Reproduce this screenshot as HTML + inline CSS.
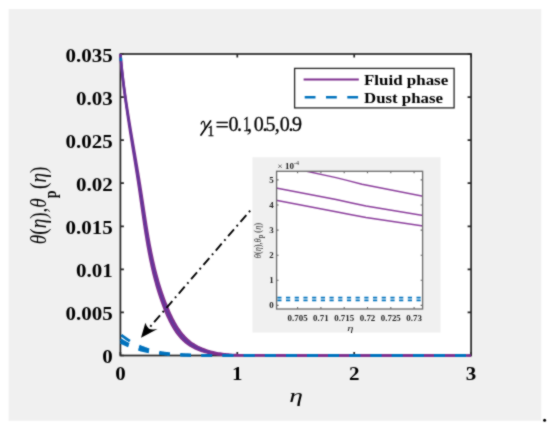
<!DOCTYPE html>
<html><head><meta charset="utf-8"><style>
html,body{margin:0;padding:0;background:#fff;width:550px;height:433px;overflow:hidden}
svg{position:absolute;left:0;top:0;will-change:transform}
svg text{font-family:"Liberation Serif",serif}
</style></head><body>
<svg width="550" height="433" viewBox="0 0 550 433" font-family="Liberation Serif">
<defs><filter id="soft" color-interpolation-filters="sRGB" filterUnits="userSpaceOnUse" x="0" y="0" width="550" height="433"><feConvolveMatrix order="3" kernelMatrix="1 2 1 2 12 2 1 2 1" divisor="24" edgeMode="duplicate"/></filter></defs>
<g filter="url(#soft)">
<rect x="0" y="0" width="550" height="433" fill="#fff"/>
<rect x="8.6" y="9" width="532.7" height="411.8" fill="#F0F0F0"/>
<rect x="120.4" y="54.0" width="350.70" height="301.50" fill="#fff"/>
<rect x="120.4" y="54.0" width="350.70" height="301.50" fill="none" stroke="#262626" stroke-width="1.7"/>
<path d="M120.40,355.5 v-3.5 M120.40,54.0 v3.5" stroke="#262626" stroke-width="1.7"/>
<path d="M237.30,355.5 v-3.5 M237.30,54.0 v3.5" stroke="#262626" stroke-width="1.7"/>
<path d="M354.20,355.5 v-3.5 M354.20,54.0 v3.5" stroke="#262626" stroke-width="1.7"/>
<path d="M471.10,355.5 v-3.5 M471.10,54.0 v3.5" stroke="#262626" stroke-width="1.7"/>
<path d="M120.4,355.50 h3.5 M471.1,355.50 h-3.5" stroke="#262626" stroke-width="1.7"/>
<path d="M120.4,312.43 h3.5 M471.1,312.43 h-3.5" stroke="#262626" stroke-width="1.7"/>
<path d="M120.4,269.36 h3.5 M471.1,269.36 h-3.5" stroke="#262626" stroke-width="1.7"/>
<path d="M120.4,226.29 h3.5 M471.1,226.29 h-3.5" stroke="#262626" stroke-width="1.7"/>
<path d="M120.4,183.21 h3.5 M471.1,183.21 h-3.5" stroke="#262626" stroke-width="1.7"/>
<path d="M120.4,140.14 h3.5 M471.1,140.14 h-3.5" stroke="#262626" stroke-width="1.7"/>
<path d="M120.4,97.07 h3.5 M471.1,97.07 h-3.5" stroke="#262626" stroke-width="1.7"/>
<path d="M120.4,54.00 h3.5 M471.1,54.00 h-3.5" stroke="#262626" stroke-width="1.7"/>
<clipPath id="ax"><rect x="118.4" y="52.0" width="352.70" height="305.50"/></clipPath>
<g clip-path="url(#ax)">
<path d="M120.40,54.00 L120.52,55.32 L120.63,56.64 L120.75,57.97 L120.87,59.29 L120.99,60.61 L121.12,61.93 L121.25,63.25 L121.38,64.56 L121.52,65.88 L121.65,67.20 L121.79,68.51 L121.94,69.83 L122.08,71.14 L122.23,72.46 L122.38,73.77 L122.53,75.09 L122.69,76.40 L122.84,77.71 L123.00,79.02 L123.17,80.33 L123.33,81.64 L123.50,82.95 L123.67,84.26 L123.84,85.57 L124.01,86.88 L124.19,88.19 L124.36,89.50 L124.54,90.81 L124.72,92.11 L124.90,93.42 L125.09,94.73 L125.28,96.03 L125.46,97.34 L125.65,98.64 L125.85,99.95 L126.04,101.25 L126.23,102.55 L126.43,103.86 L126.63,105.16 L126.83,106.46 L127.03,107.77 L127.23,109.07 L127.43,110.37 L127.64,111.67 L127.84,112.98 L128.05,114.28 L128.26,115.58 L128.47,116.88 L128.68,118.18 L128.89,119.48 L129.10,120.78 L129.31,122.08 L129.53,123.38 L129.74,124.68 L129.96,125.98 L130.18,127.28 L130.40,128.58 L130.61,129.88 L130.83,131.18 L131.05,132.48 L131.27,133.78 L131.49,135.08 L131.71,136.38 L131.94,137.67 L132.16,138.97 L132.38,140.27 L132.60,141.57 L132.83,142.87 L133.05,144.17 L133.28,145.47 L133.50,146.77 L133.72,148.07 L133.95,149.37 L134.17,150.67 L134.40,151.97 L134.62,153.27 L134.85,154.56 L135.07,155.86 L135.29,157.16 L135.52,158.46 L135.74,159.76 L135.96,161.06 L136.19,162.37 L136.41,163.67 L136.63,164.97 L136.85,166.27 L137.08,167.57 L137.30,168.87 L137.52,170.17 L137.74,171.47 L137.96,172.78 L138.18,174.08 L138.39,175.38 L138.61,176.69 L138.83,177.99 L139.04,179.29 L139.26,180.60 L139.47,181.90 L139.68,183.21 L139.89,184.51 L140.10,185.82 L140.31,187.12 L140.52,188.43 L140.73,189.74 L140.94,191.04 L141.14,192.35 L141.34,193.66 L141.55,194.97 L141.75,196.28 L141.95,197.58 L142.15,198.89 L142.35,200.20 L142.55,201.51 L142.75,202.82 L142.95,204.13 L143.15,205.44 L143.35,206.75 L143.55,208.06 L143.75,209.37 L143.95,210.68 L144.15,211.99 L144.35,213.30 L144.55,214.61 L144.75,215.92 L144.95,217.23 L145.16,218.54 L145.36,219.85 L145.57,221.16 L145.77,222.47 L145.98,223.78 L146.19,225.09 L146.40,226.40 L146.61,227.71 L146.83,229.01 L147.04,230.32 L147.26,231.63 L147.48,232.93 L147.70,234.24 L147.93,235.55 L148.15,236.85 L148.38,238.16 L148.61,239.46 L148.85,240.76 L149.08,242.07 L149.32,243.37 L149.57,244.67 L149.81,245.97 L150.06,247.27 L150.31,248.57 L150.57,249.87 L150.82,251.17 L151.09,252.46 L151.35,253.76 L151.62,255.05 L151.89,256.35 L152.17,257.64 L152.45,258.93 L152.73,260.23 L153.02,261.52 L153.32,262.81 L153.61,264.09 L153.92,265.38 L154.22,266.67 L154.54,267.95 L154.85,269.24 L155.17,270.52 L155.50,271.80 L155.83,273.08 L156.17,274.36 L156.51,275.63 L156.86,276.91 L157.21,278.19 L157.57,279.46 L157.93,280.73 L158.30,282.00 L158.68,283.27 L159.06,284.54 L159.45,285.80 L159.84,287.07 L160.24,288.33 L160.65,289.59 L161.06,290.85 L161.48,292.11 L161.91,293.37 L162.34,294.62 L162.78,295.87 L163.23,297.12 L163.68,298.37 L164.14,299.62 L164.61,300.87 L165.09,302.11 L165.57,303.35 L166.06,304.59 L166.56,305.83 L167.07,307.06 L167.59,308.30 L168.11,309.53 L168.64,310.76 L169.18,311.99 L169.73,313.21 L170.29,314.43 L170.86,315.65 L171.43,316.85 L172.02,318.06 L172.63,319.25 L173.24,320.44 L173.87,321.61 L174.51,322.78 L175.17,323.93 L175.84,325.08 L176.52,326.21 L177.23,327.33 L177.94,328.43 L178.68,329.52 L179.43,330.59 L180.20,331.65 L180.99,332.69 L181.80,333.71 L182.63,334.71 L183.48,335.69 L184.35,336.65 L185.24,337.58 L186.15,338.50 L187.09,339.39 L188.05,340.26 L189.03,341.10 L190.04,341.92 L191.07,342.71 L192.13,343.47 L193.22,344.20 L194.33,344.91 L195.46,345.58 L196.61,346.23 L197.79,346.86 L198.99,347.45 L200.20,348.02 L201.43,348.56 L202.68,349.08 L203.94,349.57 L205.22,350.04 L206.50,350.48 L207.80,350.90 L209.10,351.29 L210.41,351.66 L211.74,352.01 L213.07,352.33 L214.40,352.64 L215.75,352.92 L217.10,353.18 L218.45,353.43 L219.82,353.65 L221.19,353.86 L222.56,354.05 L223.94,354.22 L225.32,354.38 L226.71,354.52 L228.11,354.65 L229.50,354.76 L230.90,354.86 L232.30,354.95 L233.71,355.03 L235.12,355.09 L236.53,355.14 L237.94,355.19 L239.35,355.22 L240.77,355.24 L242.18,355.26 L243.60,355.27 L245.01,355.27 L246.43,355.27 L247.84,355.27 L249.26,355.27 L250.67,355.27 L252.08,355.27 L253.49,355.27 L254.89,355.27 L256.29,355.27 L257.69,355.27 L259.09,355.27 L260.48,355.27 L261.87,355.27 L263.26,355.27 L264.64,355.27 L266.01,355.27 L267.38,355.27 L268.74,355.27 L270.10,355.27 L271.45,355.27 L272.79,355.27 L274.13,355.27 L275.46,355.27 L276.78,355.27 L278.10,355.27 L279.40,355.27 L280.70,355.27 L281.98,355.27 L283.26,355.30 L284.53,355.39 L285.78,355.50 L485.89,355.50" fill="none" stroke="#7E2F8E" stroke-width="2.6" stroke-linejoin="round"/>
<path d="M120.40,54.00 L120.51,55.32 L120.61,56.64 L120.72,57.97 L120.84,59.29 L120.95,60.61 L121.07,61.93 L121.19,63.25 L121.31,64.56 L121.44,65.88 L121.57,67.20 L121.70,68.51 L121.83,69.83 L121.97,71.14 L122.11,72.46 L122.25,73.77 L122.39,75.09 L122.53,76.40 L122.68,77.71 L122.83,79.02 L122.98,80.33 L123.13,81.64 L123.29,82.95 L123.45,84.26 L123.60,85.57 L123.77,86.88 L123.93,88.19 L124.09,89.50 L124.26,90.81 L124.43,92.11 L124.60,93.42 L124.77,94.73 L124.95,96.03 L125.12,97.34 L125.30,98.64 L125.48,99.95 L125.66,101.25 L125.84,102.55 L126.02,103.86 L126.21,105.16 L126.39,106.46 L126.58,107.77 L126.77,109.07 L126.96,110.37 L127.15,111.67 L127.34,112.98 L127.53,114.28 L127.73,115.58 L127.92,116.88 L128.12,118.18 L128.31,119.48 L128.51,120.78 L128.71,122.08 L128.91,123.38 L129.11,124.68 L129.31,125.98 L129.52,127.28 L129.72,128.58 L129.92,129.88 L130.13,131.18 L130.33,132.48 L130.54,133.78 L130.74,135.08 L130.95,136.38 L131.16,137.67 L131.36,138.97 L131.57,140.27 L131.78,141.57 L131.99,142.87 L132.20,144.17 L132.40,145.47 L132.61,146.77 L132.82,148.07 L133.03,149.37 L133.24,150.67 L133.45,151.97 L133.66,153.27 L133.87,154.56 L134.08,155.86 L134.29,157.16 L134.50,158.46 L134.70,159.76 L134.91,161.06 L135.12,162.37 L135.33,163.67 L135.54,164.97 L135.74,166.27 L135.95,167.57 L136.15,168.87 L136.36,170.17 L136.56,171.47 L136.77,172.78 L136.97,174.08 L137.18,175.38 L137.38,176.69 L137.58,177.99 L137.78,179.29 L137.98,180.60 L138.18,181.90 L138.38,183.21 L138.58,184.51 L138.77,185.82 L138.97,187.12 L139.16,188.43 L139.35,189.74 L139.55,191.04 L139.74,192.35 L139.93,193.66 L140.12,194.97 L140.31,196.28 L140.49,197.58 L140.68,198.89 L140.87,200.20 L141.05,201.51 L141.24,202.82 L141.42,204.13 L141.61,205.44 L141.80,206.75 L141.98,208.06 L142.17,209.37 L142.35,210.68 L142.54,211.99 L142.73,213.30 L142.91,214.61 L143.10,215.92 L143.29,217.23 L143.48,218.54 L143.67,219.85 L143.86,221.16 L144.06,222.47 L144.25,223.78 L144.45,225.09 L144.64,226.40 L144.84,227.71 L145.04,229.01 L145.24,230.32 L145.44,231.63 L145.65,232.93 L145.86,234.24 L146.07,235.55 L146.28,236.85 L146.49,238.16 L146.71,239.46 L146.92,240.76 L147.14,242.07 L147.37,243.37 L147.59,244.67 L147.82,245.97 L148.05,247.27 L148.29,248.57 L148.53,249.87 L148.77,251.17 L149.01,252.46 L149.26,253.76 L149.51,255.05 L149.76,256.35 L150.02,257.64 L150.28,258.93 L150.55,260.23 L150.82,261.52 L151.09,262.81 L151.37,264.09 L151.65,265.38 L151.94,266.67 L152.23,267.95 L152.52,269.24 L152.82,270.52 L153.12,271.80 L153.43,273.08 L153.75,274.36 L154.07,275.63 L154.39,276.91 L154.72,278.19 L155.05,279.46 L155.39,280.73 L155.74,282.00 L156.09,283.27 L156.44,284.54 L156.80,285.80 L157.17,287.07 L157.55,288.33 L157.92,289.59 L158.31,290.85 L158.70,292.11 L159.10,293.37 L159.50,294.62 L159.91,295.87 L160.33,297.12 L160.75,298.37 L161.19,299.62 L161.62,300.87 L162.07,302.11 L162.52,303.35 L162.98,304.59 L163.44,305.83 L163.91,307.06 L164.39,308.30 L164.88,309.53 L165.38,310.76 L165.88,311.99 L166.39,313.21 L166.91,314.43 L167.44,315.65 L167.98,316.85 L168.53,318.06 L169.10,319.25 L169.67,320.44 L170.25,321.61 L170.85,322.78 L171.46,323.93 L172.09,325.08 L172.73,326.21 L173.38,327.33 L174.05,328.43 L174.74,329.52 L175.44,330.59 L176.16,331.65 L176.89,332.69 L177.65,333.71 L178.42,334.71 L179.21,335.69 L180.02,336.65 L180.86,337.58 L181.71,338.50 L182.58,339.39 L183.47,340.26 L184.39,341.10 L185.33,341.92 L186.29,342.71 L187.28,343.47 L188.29,344.20 L189.33,344.91 L190.38,345.58 L191.46,346.23 L192.56,346.86 L193.67,347.45 L194.80,348.02 L195.95,348.56 L197.12,349.08 L198.29,349.57 L199.48,350.04 L200.68,350.48 L201.89,350.90 L203.10,351.29 L204.33,351.66 L205.56,352.01 L206.80,352.33 L208.04,352.64 L209.30,352.92 L210.56,353.18 L211.82,353.43 L213.09,353.65 L214.37,353.86 L215.65,354.05 L216.94,354.22 L218.23,354.38 L219.52,354.52 L220.82,354.65 L222.12,354.76 L223.43,354.86 L224.74,354.95 L226.05,355.03 L227.36,355.09 L228.67,355.14 L229.99,355.19 L231.31,355.22 L232.63,355.24 L233.95,355.26 L235.27,355.27 L236.58,355.27 L237.90,355.27 L239.22,355.27 L240.54,355.27 L241.86,355.27 L243.17,355.27 L244.48,355.27 L245.79,355.27 L247.10,355.27 L248.41,355.27 L249.71,355.27 L251.01,355.27 L252.30,355.27 L253.59,355.27 L254.88,355.27 L256.16,355.27 L257.44,355.27 L258.71,355.27 L259.98,355.27 L261.23,355.27 L262.49,355.27 L263.73,355.27 L264.97,355.27 L266.21,355.27 L267.43,355.27 L268.65,355.27 L269.85,355.27 L271.05,355.27 L272.25,355.30 L273.43,355.39 L274.60,355.50 L461.17,355.50" fill="none" stroke="#7E2F8E" stroke-width="2.6" stroke-linejoin="round"/>
<clipPath id="cc"><rect x="110" y="40" width="100" height="320"/></clipPath>
<path clip-path="url(#cc)" d="M120.40,54.00 L120.51,55.32 L120.62,56.64 L120.74,57.97 L120.85,59.29 L120.97,60.61 L121.09,61.93 L121.22,63.25 L121.35,64.56 L121.48,65.88 L121.61,67.20 L121.74,68.51 L121.88,69.83 L122.02,71.14 L122.16,72.46 L122.31,73.77 L122.46,75.09 L122.61,76.40 L122.76,77.71 L122.91,79.02 L123.07,80.33 L123.23,81.64 L123.39,82.95 L123.55,84.26 L123.72,85.57 L123.88,86.88 L124.05,88.19 L124.22,89.50 L124.40,90.81 L124.57,92.11 L124.75,93.42 L124.93,94.73 L125.11,96.03 L125.29,97.34 L125.47,98.64 L125.65,99.95 L125.84,101.25 L126.03,102.55 L126.22,103.86 L126.41,105.16 L126.60,106.46 L126.79,107.77 L126.99,109.07 L127.19,110.37 L127.38,111.67 L127.58,112.98 L127.78,114.28 L127.98,115.58 L128.18,116.88 L128.39,118.18 L128.59,119.48 L128.80,120.78 L129.00,122.08 L129.21,123.38 L129.42,124.68 L129.63,125.98 L129.84,127.28 L130.05,128.58 L130.26,129.88 L130.47,131.18 L130.68,132.48 L130.89,133.78 L131.11,135.08 L131.32,136.38 L131.53,137.67 L131.75,138.97 L131.96,140.27 L132.18,141.57 L132.39,142.87 L132.61,144.17 L132.83,145.47 L133.04,146.77 L133.26,148.07 L133.47,149.37 L133.69,150.67 L133.91,151.97 L134.12,153.27 L134.34,154.56 L134.56,155.86 L134.77,157.16 L134.99,158.46 L135.20,159.76 L135.42,161.06 L135.64,162.37 L135.85,163.67 L136.06,164.97 L136.28,166.27 L136.49,167.57 L136.71,168.87 L136.92,170.17 L137.13,171.47 L137.34,172.78 L137.55,174.08 L137.76,175.38 L137.97,176.69 L138.18,177.99 L138.39,179.29 L138.60,180.60 L138.80,181.90 L139.01,183.21 L139.21,184.51 L139.41,185.82 L139.62,187.12 L139.82,188.43 L140.02,189.74 L140.22,191.04 L140.41,192.35 L140.61,193.66 L140.81,194.97 L141.00,196.28 L141.20,197.58 L141.39,198.89 L141.58,200.20 L141.78,201.51 L141.97,202.82 L142.16,204.13 L142.35,205.44 L142.55,206.75 L142.74,208.06 L142.93,209.37 L143.12,210.68 L143.32,211.99 L143.51,213.30 L143.70,214.61 L143.90,215.92 L144.09,217.23 L144.29,218.54 L144.49,219.85 L144.69,221.16 L144.88,222.47 L145.09,223.78 L145.29,225.09 L145.49,226.40 L145.70,227.71 L145.90,229.01 L146.11,230.32 L146.32,231.63 L146.53,232.93 L146.75,234.24 L146.96,235.55 L147.18,236.85 L147.40,238.16 L147.63,239.46 L147.85,240.76 L148.08,242.07 L148.31,243.37 L148.54,244.67 L148.78,245.97 L149.02,247.27 L149.26,248.57 L149.51,249.87 L149.76,251.17 L150.01,252.46 L150.27,253.76 L150.53,255.05 L150.79,256.35 L151.06,257.64 L151.33,258.93 L151.60,260.23 L151.88,261.52 L152.16,262.81 L152.45,264.09 L152.74,265.38 L153.04,266.67 L153.34,267.95 L153.65,269.24 L153.96,270.52 L154.27,271.80 L154.59,273.08 L154.91,274.36 L155.24,275.63 L155.58,276.91 L155.92,278.19 L156.27,279.46 L156.62,280.73 L156.97,282.00 L157.34,283.27 L157.70,284.54 L158.08,285.80 L158.46,287.07 L158.85,288.33 L159.24,289.59 L159.64,290.85 L160.04,292.11 L160.45,293.37 L160.87,294.62 L161.30,295.87 L161.73,297.12 L162.17,298.37 L162.61,299.62 L163.07,300.87 L163.53,302.11 L163.99,303.35 L164.47,304.59 L164.95,305.83 L165.44,307.06 L165.93,308.30 L166.44,309.53 L166.95,310.76 L167.47,311.99 L168.00,313.21 L168.54,314.43 L169.09,315.65 L169.65,316.85 L170.22,318.06 L170.80,319.25 L171.39,320.44 L172.00,321.61 L172.62,322.78 L173.25,323.93 L173.90,325.08 L174.56,326.21 L175.24,327.33 L175.93,328.43 L176.64,329.52 L177.37,330.59 L178.11,331.65 L178.87,332.69 L179.65,333.71 L180.45,334.71 L181.27,335.69 L182.11,336.65 L182.97,337.58 L183.85,338.50 L184.76,339.39 L185.68,340.26 L186.63,341.10 L187.60,341.92 L188.60,342.71 L189.62,343.47 L190.67,344.20 L191.74,344.91 L192.83,345.58 L193.95,346.23 L195.08,346.86 L196.24,347.45 L197.41,348.02 L198.60,348.56 L199.80,349.08 L201.02,349.57 L202.25,350.04 L203.49,350.48 L204.74,350.90 L206.00,351.29 L207.26,351.66 L208.54,352.01 L209.82,352.33 L211.11,352.64 L212.41,352.92 L213.71,353.18 L215.02,353.43 L216.34,353.65 L217.66,353.86 L218.98,354.05 L220.32,354.22 L221.65,354.38 L222.99,354.52 L224.34,354.65 L225.68,354.76 L227.03,354.86 L228.39,354.95 L229.74,355.03 L231.10,355.09 L232.46,355.14 L233.83,355.19 L235.19,355.22 L236.55,355.24 L237.92,355.26 L239.29,355.27 L240.65,355.27 L242.02,355.27 L243.38,355.27 L244.75,355.27 L246.11,355.27 L247.47,355.27 L248.83,355.27 L250.18,355.27 L251.54,355.27 L252.89,355.27 L254.24,355.27 L255.58,355.27 L256.92,355.27 L258.26,355.27 L259.59,355.27 L260.91,355.27 L262.24,355.27 L263.55,355.27 L264.86,355.27 L266.16,355.27 L267.46,355.27 L268.75,355.27 L270.03,355.27 L271.31,355.27 L272.58,355.27 L273.84,355.27 L275.09,355.27 L276.33,355.27 L277.56,355.30 L278.78,355.39 L280.00,355.50 L473.10,355.50" fill="none" stroke="#60389C" stroke-width="1.8" stroke-linejoin="round"/>
<rect x="119.5" y="57.6" width="2.6" height="3.4" fill="#0072BD"/>
<path d="M120.40,334.30 L120.94,334.73 L121.48,335.16 L122.02,335.58 L122.56,336.00 L123.10,336.41 L123.64,336.81 L124.18,337.21 L124.72,337.60 L125.26,337.99 L125.80,338.37 L126.33,338.75 L126.87,339.12 L127.41,339.48 L127.95,339.84 L128.49,340.19 L129.03,340.54 L129.57,340.88 L130.11,341.21 L130.65,341.54 L131.19,341.87 L131.73,342.19 L132.27,342.50 L132.81,342.81 L133.35,343.11 L133.89,343.41 L134.43,343.70 L134.97,343.98 L135.51,344.27 L136.05,344.54 L136.59,344.81 L137.13,345.08 L137.67,345.34 L138.20,345.59 L138.74,345.84 L139.28,346.09 L139.82,346.33 L140.36,346.56 L140.90,346.80 L141.44,347.02 L141.98,347.24 L142.52,347.46 L143.06,347.67 L143.60,347.88 L144.14,348.08 L144.68,348.28 L145.22,348.48 L145.76,348.67 L146.30,348.86 L146.84,349.04 L147.38,349.22 L147.92,349.39 L148.46,349.56 L149.00,349.73 L149.54,349.89 L150.07,350.05 L150.61,350.20 L151.15,350.36 L151.69,350.50 L152.23,350.65 L152.77,350.79 L153.31,350.93 L153.85,351.06 L154.39,351.19 L154.93,351.32 L155.47,351.44 L156.01,351.57 L156.55,351.68 L157.09,351.80 L157.63,351.91 L158.17,352.02 L158.71,352.13 L159.25,352.23 L159.79,352.33 L160.33,352.43 L160.87,352.53 L161.40,352.62 L161.94,352.71 L162.48,352.80 L163.02,352.89 L163.56,352.97 L164.10,353.05 L164.64,353.13 L165.18,353.21 L165.72,353.28 L166.26,353.35 L166.80,353.42 L167.34,353.49 L167.88,353.56 L168.42,353.62 L168.96,353.69 L169.50,353.75 L170.04,353.81 L170.58,353.86 L171.12,353.92 L171.66,353.97 L172.20,354.02 L172.74,354.08 L173.27,354.12 L173.81,354.17 L174.35,354.22 L174.89,354.26 L175.43,354.31 L175.97,354.35 L176.51,354.39 L177.05,354.43 L177.59,354.47 L178.13,354.50 L178.67,354.54 L179.21,354.58 L179.75,354.61 L180.29,354.64 L180.83,354.67 L181.37,354.70 L181.91,354.73 L182.45,354.76 L182.99,354.79 L183.53,354.81 L184.07,354.84 L184.61,354.87 L185.14,354.89 L185.68,354.91 L186.22,354.93 L186.76,354.96 L187.30,354.98 L187.84,355.00 L188.38,355.02 L188.92,355.04 L189.46,355.05 L190.00,355.07 L190.54,355.09 L191.08,355.10 L191.62,355.12 L192.16,355.13 L192.70,355.15 L193.24,355.16 L193.78,355.18 L194.32,355.19 L194.86,355.20 L195.40,355.21 L195.94,355.23 L196.47,355.24 L197.01,355.25 L197.55,355.26 L198.09,355.27 L198.63,355.28 L199.17,355.29 L199.71,355.30 L200.25,355.30 L200.79,355.31 L201.33,355.32 L201.87,355.33 L202.41,355.34 L202.95,355.34 L203.49,355.35 L204.03,355.36 L204.57,355.36 L205.11,355.37 L205.65,355.37 L206.19,355.38 L206.73,355.38 L207.27,355.39 L207.81,355.39 L208.34,355.40 L208.88,355.40 L209.42,355.41 L209.96,355.41 L210.50,355.42 L211.04,355.42 L211.58,355.42 L212.12,355.43 L212.66,355.43 L213.20,355.43 L213.74,355.44 L214.28,355.44 L214.82,355.44 L215.36,355.44 L215.90,355.45 L216.44,355.45 L216.98,355.45 L217.52,355.45 L218.06,355.46 L218.60,355.46 L219.14,355.46 L219.68,355.46 L220.21,355.46 L220.75,355.47 L221.29,355.47 L221.83,355.47 L222.37,355.47 L222.91,355.47 L223.45,355.47 L223.99,355.47 L224.53,355.48 L225.07,355.48 L225.61,355.48 L226.15,355.48 L226.69,355.48 L227.23,355.48 L227.77,355.48 L228.31,355.48 L228.85,355.48 L229.39,355.48 L229.93,355.49 L230.47,355.49 L231.01,355.49 L231.54,355.49 L232.08,355.49 L232.62,355.49 L233.16,355.49 L233.70,355.49 L234.24,355.49 L234.78,355.49 L235.32,355.49 L235.86,355.49 L236.40,355.49 L236.94,355.49 L237.48,355.49 L238.02,355.49 L238.56,355.49 L239.10,355.49 L239.64,355.49 L240.18,355.49 L240.72,355.49 L241.26,355.50 L241.80,355.50 L242.34,355.50 L242.88,355.50 L243.41,355.50 L243.95,355.50 L244.49,355.50 L245.03,355.50 L245.57,355.50 L246.11,355.50 L246.65,355.50 L247.19,355.50 L247.73,355.50 L248.27,355.50 L248.81,355.50 L249.35,355.50 L249.89,355.50 L250.43,355.50 L250.97,355.50 L251.51,355.50 L252.05,355.50 L252.59,355.50 L253.13,355.50 L253.67,355.50 L254.21,355.50 L254.75,355.50 L255.28,355.50 L255.82,355.50 L256.36,355.50 L256.90,355.50 L257.44,355.50 L257.98,355.50 L258.52,355.50 L259.06,355.50 L259.60,355.50 L260.14,355.50 L260.68,355.50 L473.10,355.50" fill="none" stroke="#0072BD" stroke-width="2.8" stroke-dasharray="10.6 10.55" stroke-dashoffset="-1.08"/>
<path d="M120.40,339.60 L120.94,339.93 L121.48,340.25 L122.02,340.56 L122.56,340.87 L123.10,341.18 L123.64,341.49 L124.18,341.78 L124.72,342.08 L125.26,342.37 L125.80,342.65 L126.33,342.94 L126.87,343.21 L127.41,343.49 L127.95,343.75 L128.49,344.02 L129.03,344.28 L129.57,344.53 L130.11,344.79 L130.65,345.03 L131.19,345.28 L131.73,345.52 L132.27,345.75 L132.81,345.98 L133.35,346.21 L133.89,346.43 L134.43,346.65 L134.97,346.86 L135.51,347.07 L136.05,347.28 L136.59,347.48 L137.13,347.68 L137.67,347.88 L138.20,348.07 L138.74,348.26 L139.28,348.44 L139.82,348.62 L140.36,348.80 L140.90,348.97 L141.44,349.14 L141.98,349.31 L142.52,349.47 L143.06,349.63 L143.60,349.79 L144.14,349.94 L144.68,350.09 L145.22,350.23 L145.76,350.38 L146.30,350.52 L146.84,350.65 L147.38,350.79 L147.92,350.92 L148.46,351.05 L149.00,351.17 L149.54,351.29 L150.07,351.41 L150.61,351.53 L151.15,351.64 L151.69,351.75 L152.23,351.86 L152.77,351.97 L153.31,352.07 L153.85,352.17 L154.39,352.27 L154.93,352.36 L155.47,352.46 L156.01,352.55 L156.55,352.64 L157.09,352.72 L157.63,352.81 L158.17,352.89 L158.71,352.97 L159.25,353.05 L159.79,353.12 L160.33,353.20 L160.87,353.27 L161.40,353.34 L161.94,353.41 L162.48,353.47 L163.02,353.54 L163.56,353.60 L164.10,353.66 L164.64,353.72 L165.18,353.78 L165.72,353.84 L166.26,353.89 L166.80,353.94 L167.34,353.99 L167.88,354.04 L168.42,354.09 L168.96,354.14 L169.50,354.18 L170.04,354.23 L170.58,354.27 L171.12,354.31 L171.66,354.35 L172.20,354.39 L172.74,354.43 L173.27,354.47 L173.81,354.50 L174.35,354.54 L174.89,354.57 L175.43,354.61 L175.97,354.64 L176.51,354.67 L177.05,354.70 L177.59,354.73 L178.13,354.75 L178.67,354.78 L179.21,354.81 L179.75,354.83 L180.29,354.86 L180.83,354.88 L181.37,354.90 L181.91,354.92 L182.45,354.95 L182.99,354.97 L183.53,354.99 L184.07,355.01 L184.61,355.02 L185.14,355.04 L185.68,355.06 L186.22,355.08 L186.76,355.09 L187.30,355.11 L187.84,355.12 L188.38,355.14 L188.92,355.15 L189.46,355.16 L190.00,355.18 L190.54,355.19 L191.08,355.20 L191.62,355.21 L192.16,355.23 L192.70,355.24 L193.24,355.25 L193.78,355.26 L194.32,355.27 L194.86,355.28 L195.40,355.29 L195.94,355.29 L196.47,355.30 L197.01,355.31 L197.55,355.32 L198.09,355.33 L198.63,355.33 L199.17,355.34 L199.71,355.35 L200.25,355.35 L200.79,355.36 L201.33,355.37 L201.87,355.37 L202.41,355.38 L202.95,355.38 L203.49,355.39 L204.03,355.39 L204.57,355.40 L205.11,355.40 L205.65,355.40 L206.19,355.41 L206.73,355.41 L207.27,355.42 L207.81,355.42 L208.34,355.42 L208.88,355.43 L209.42,355.43 L209.96,355.43 L210.50,355.44 L211.04,355.44 L211.58,355.44 L212.12,355.44 L212.66,355.45 L213.20,355.45 L213.74,355.45 L214.28,355.45 L214.82,355.46 L215.36,355.46 L215.90,355.46 L216.44,355.46 L216.98,355.46 L217.52,355.47 L218.06,355.47 L218.60,355.47 L219.14,355.47 L219.68,355.47 L220.21,355.47 L220.75,355.47 L221.29,355.48 L221.83,355.48 L222.37,355.48 L222.91,355.48 L223.45,355.48 L223.99,355.48 L224.53,355.48 L225.07,355.48 L225.61,355.48 L226.15,355.48 L226.69,355.48 L227.23,355.49 L227.77,355.49 L228.31,355.49 L228.85,355.49 L229.39,355.49 L229.93,355.49 L230.47,355.49 L231.01,355.49 L231.54,355.49 L232.08,355.49 L232.62,355.49 L233.16,355.49 L233.70,355.49 L234.24,355.49 L234.78,355.49 L235.32,355.49 L235.86,355.49 L236.40,355.49 L236.94,355.49 L237.48,355.49 L238.02,355.49 L238.56,355.50 L239.10,355.50 L239.64,355.50 L240.18,355.50 L240.72,355.50 L241.26,355.50 L241.80,355.50 L242.34,355.50 L242.88,355.50 L243.41,355.50 L243.95,355.50 L244.49,355.50 L245.03,355.50 L245.57,355.50 L246.11,355.50 L246.65,355.50 L247.19,355.50 L247.73,355.50 L248.27,355.50 L248.81,355.50 L249.35,355.50 L249.89,355.50 L250.43,355.50 L250.97,355.50 L251.51,355.50 L252.05,355.50 L252.59,355.50 L253.13,355.50 L253.67,355.50 L254.21,355.50 L254.75,355.50 L255.28,355.50 L255.82,355.50 L256.36,355.50 L256.90,355.50 L257.44,355.50 L257.98,355.50 L258.52,355.50 L259.06,355.50 L259.60,355.50 L260.14,355.50 L260.68,355.50 L473.10,355.50" fill="none" stroke="#0072BD" stroke-width="2.8" stroke-dasharray="10.6 10.55" stroke-dashoffset="-20.31"/>
<path d="M120.40,342.20 L120.94,342.47 L121.48,342.74 L122.02,343.00 L122.56,343.27 L123.10,343.52 L123.64,343.78 L124.18,344.03 L124.72,344.27 L125.26,344.52 L125.80,344.75 L126.33,344.99 L126.87,345.22 L127.41,345.45 L127.95,345.68 L128.49,345.90 L129.03,346.11 L129.57,346.33 L130.11,346.54 L130.65,346.74 L131.19,346.95 L131.73,347.15 L132.27,347.34 L132.81,347.54 L133.35,347.73 L133.89,347.91 L134.43,348.10 L134.97,348.28 L135.51,348.45 L136.05,348.62 L136.59,348.79 L137.13,348.96 L137.67,349.12 L138.20,349.28 L138.74,349.44 L139.28,349.60 L139.82,349.75 L140.36,349.89 L140.90,350.04 L141.44,350.18 L141.98,350.32 L142.52,350.46 L143.06,350.59 L143.60,350.72 L144.14,350.85 L144.68,350.97 L145.22,351.10 L145.76,351.21 L146.30,351.33 L146.84,351.45 L147.38,351.56 L147.92,351.67 L148.46,351.77 L149.00,351.88 L149.54,351.98 L150.07,352.08 L150.61,352.18 L151.15,352.27 L151.69,352.37 L152.23,352.46 L152.77,352.54 L153.31,352.63 L153.85,352.72 L154.39,352.80 L154.93,352.88 L155.47,352.96 L156.01,353.03 L156.55,353.11 L157.09,353.18 L157.63,353.25 L158.17,353.32 L158.71,353.38 L159.25,353.45 L159.79,353.51 L160.33,353.57 L160.87,353.63 L161.40,353.69 L161.94,353.75 L162.48,353.81 L163.02,353.86 L163.56,353.91 L164.10,353.96 L164.64,354.01 L165.18,354.06 L165.72,354.11 L166.26,354.15 L166.80,354.20 L167.34,354.24 L167.88,354.28 L168.42,354.32 L168.96,354.36 L169.50,354.40 L170.04,354.44 L170.58,354.47 L171.12,354.51 L171.66,354.54 L172.20,354.57 L172.74,354.61 L173.27,354.64 L173.81,354.67 L174.35,354.70 L174.89,354.72 L175.43,354.75 L175.97,354.78 L176.51,354.80 L177.05,354.83 L177.59,354.85 L178.13,354.88 L178.67,354.90 L179.21,354.92 L179.75,354.94 L180.29,354.96 L180.83,354.98 L181.37,355.00 L181.91,355.02 L182.45,355.04 L182.99,355.05 L183.53,355.07 L184.07,355.09 L184.61,355.10 L185.14,355.12 L185.68,355.13 L186.22,355.15 L186.76,355.16 L187.30,355.17 L187.84,355.18 L188.38,355.20 L188.92,355.21 L189.46,355.22 L190.00,355.23 L190.54,355.24 L191.08,355.25 L191.62,355.26 L192.16,355.27 L192.70,355.28 L193.24,355.29 L193.78,355.30 L194.32,355.31 L194.86,355.31 L195.40,355.32 L195.94,355.33 L196.47,355.33 L197.01,355.34 L197.55,355.35 L198.09,355.35 L198.63,355.36 L199.17,355.37 L199.71,355.37 L200.25,355.38 L200.79,355.38 L201.33,355.39 L201.87,355.39 L202.41,355.40 L202.95,355.40 L203.49,355.41 L204.03,355.41 L204.57,355.41 L205.11,355.42 L205.65,355.42 L206.19,355.42 L206.73,355.43 L207.27,355.43 L207.81,355.43 L208.34,355.44 L208.88,355.44 L209.42,355.44 L209.96,355.44 L210.50,355.45 L211.04,355.45 L211.58,355.45 L212.12,355.45 L212.66,355.46 L213.20,355.46 L213.74,355.46 L214.28,355.46 L214.82,355.46 L215.36,355.46 L215.90,355.47 L216.44,355.47 L216.98,355.47 L217.52,355.47 L218.06,355.47 L218.60,355.47 L219.14,355.47 L219.68,355.48 L220.21,355.48 L220.75,355.48 L221.29,355.48 L221.83,355.48 L222.37,355.48 L222.91,355.48 L223.45,355.48 L223.99,355.48 L224.53,355.48 L225.07,355.49 L225.61,355.49 L226.15,355.49 L226.69,355.49 L227.23,355.49 L227.77,355.49 L228.31,355.49 L228.85,355.49 L229.39,355.49 L229.93,355.49 L230.47,355.49 L231.01,355.49 L231.54,355.49 L232.08,355.49 L232.62,355.49 L233.16,355.49 L233.70,355.49 L234.24,355.49 L234.78,355.49 L235.32,355.49 L235.86,355.49 L236.40,355.49 L236.94,355.50 L237.48,355.50 L238.02,355.50 L238.56,355.50 L239.10,355.50 L239.64,355.50 L240.18,355.50 L240.72,355.50 L241.26,355.50 L241.80,355.50 L242.34,355.50 L242.88,355.50 L243.41,355.50 L243.95,355.50 L244.49,355.50 L245.03,355.50 L245.57,355.50 L246.11,355.50 L246.65,355.50 L247.19,355.50 L247.73,355.50 L248.27,355.50 L248.81,355.50 L249.35,355.50 L249.89,355.50 L250.43,355.50 L250.97,355.50 L251.51,355.50 L252.05,355.50 L252.59,355.50 L253.13,355.50 L253.67,355.50 L254.21,355.50 L254.75,355.50 L255.28,355.50 L255.82,355.50 L256.36,355.50 L256.90,355.50 L257.44,355.50 L257.98,355.50 L258.52,355.50 L259.06,355.50 L259.60,355.50 L260.14,355.50 L260.68,355.50 L473.10,355.50" fill="none" stroke="#0072BD" stroke-width="2.8" stroke-dasharray="10.6 10.55" stroke-dashoffset="-19.53"/>
</g>
<path d="M250.8,209.9 L149.03,328.10" stroke="#000" stroke-width="1.9" fill="none" stroke-dasharray="1.8 4.05 9 4.05" stroke-dashoffset="-1.0"/>
<path d="M141.0,337.8 L145.4,322.8 Q146.6,327.0 149.0,328.8 Q152.2,330.0 157.5,329.0 Z" fill="#000"/>
<rect x="294.6" y="68.4" width="159.5" height="39.5" fill="#fff" stroke="#262626" stroke-width="1.3"/>
<path d="M303.6,79.5 H358.8" stroke="#7E2F8E" stroke-width="2.2"/>
<path d="M304.7,97.2 H358.2" stroke="#0072BD" stroke-width="2.6" stroke-dasharray="10.8 10.5"/>
<rect x="252.5" y="157.2" width="188" height="175.4" fill="#F0F0F0"/>
<rect x="276.6" y="171.3" width="146.0" height="137.7" fill="#fff"/>
<clipPath id="ic"><rect x="276.6" y="171.3" width="146.0" height="137.7"/></clipPath>
<g clip-path="url(#ic)">
<path d="M296,168.4 L306.7,171.3 L336,177.6 Q349,180.8 362,184.2 L424,196.5" stroke="#8A3C9B" stroke-width="1.45" fill="none" stroke-linejoin="round"/>
<path d="M276,188.0 L336,199.5 Q351,202.9 366,206.0 L424,215.6" stroke="#8A3C9B" stroke-width="1.45" fill="none" stroke-linejoin="round"/>
<path d="M276,200.2 L336,211.7 Q351,214.7 366,217.5 L424,226.2" stroke="#8A3C9B" stroke-width="1.45" fill="none" stroke-linejoin="round"/>
<path d="M277.3,297.7 H423" stroke="#0072BD" stroke-width="1.8" stroke-dasharray="4.2 4.5"/>
<path d="M277.3,300.3 H423" stroke="#0072BD" stroke-width="1.8" stroke-dasharray="4.2 4.5"/>
</g>
<rect x="276.6" y="171.3" width="146.0" height="137.7" fill="none" stroke="#6a6a6a" stroke-width="1.3"/>
<path d="M297.6,309.0 v-2 M297.6,171.3 v2" stroke="#6a6a6a" stroke-width="1.1"/>
<path d="M320.9,309.0 v-2 M320.9,171.3 v2" stroke="#6a6a6a" stroke-width="1.1"/>
<path d="M344.2,309.0 v-2 M344.2,171.3 v2" stroke="#6a6a6a" stroke-width="1.1"/>
<path d="M367.5,309.0 v-2 M367.5,171.3 v2" stroke="#6a6a6a" stroke-width="1.1"/>
<path d="M390.8,309.0 v-2 M390.8,171.3 v2" stroke="#6a6a6a" stroke-width="1.1"/>
<path d="M414.1,309.0 v-2 M414.1,171.3 v2" stroke="#6a6a6a" stroke-width="1.1"/>
<path d="M276.6,305.4 h2 M422.6,305.4 h-2" stroke="#6a6a6a" stroke-width="1.1"/>
<path d="M276.6,280.3 h2 M422.6,280.3 h-2" stroke="#6a6a6a" stroke-width="1.1"/>
<path d="M276.6,255.2 h2 M422.6,255.2 h-2" stroke="#6a6a6a" stroke-width="1.1"/>
<path d="M276.6,230.1 h2 M422.6,230.1 h-2" stroke="#6a6a6a" stroke-width="1.1"/>
<path d="M276.6,205.0 h2 M422.6,205.0 h-2" stroke="#6a6a6a" stroke-width="1.1"/>
<path d="M276.6,179.9 h2 M422.6,179.9 h-2" stroke="#6a6a6a" stroke-width="1.1"/>
<circle cx="544.6" cy="420.2" r="1.5" fill="#000"/>
<text x="0" y="0" font-size="18.6" font-weight="bold" font-style="normal" text-anchor="end" fill="#000" transform="translate(112.80,363.00) scale(1.13,1)" >0</text>
<text x="0" y="0" font-size="18.6" font-weight="bold" font-style="normal" text-anchor="end" fill="#000" transform="translate(112.80,319.93) scale(1.13,1)" >0.005</text>
<text x="0" y="0" font-size="18.6" font-weight="bold" font-style="normal" text-anchor="end" fill="#000" transform="translate(112.80,276.86) scale(1.13,1)" >0.01</text>
<text x="0" y="0" font-size="18.6" font-weight="bold" font-style="normal" text-anchor="end" fill="#000" transform="translate(112.80,233.79) scale(1.13,1)" >0.015</text>
<text x="0" y="0" font-size="18.6" font-weight="bold" font-style="normal" text-anchor="end" fill="#000" transform="translate(112.80,190.71) scale(1.13,1)" >0.02</text>
<text x="0" y="0" font-size="18.6" font-weight="bold" font-style="normal" text-anchor="end" fill="#000" transform="translate(112.80,147.64) scale(1.13,1)" >0.025</text>
<text x="0" y="0" font-size="18.6" font-weight="bold" font-style="normal" text-anchor="end" fill="#000" transform="translate(112.80,104.57) scale(1.13,1)" >0.03</text>
<text x="0" y="0" font-size="18.6" font-weight="bold" font-style="normal" text-anchor="end" fill="#000" transform="translate(112.80,61.50) scale(1.13,1)" >0.035</text>
<text x="0" y="0" font-size="18.6" font-weight="bold" font-style="normal" text-anchor="middle" fill="#000" transform="translate(120.40,380.30) scale(1.13,1)" >0</text>
<text x="0" y="0" font-size="18.6" font-weight="bold" font-style="normal" text-anchor="middle" fill="#000" transform="translate(237.30,380.30) scale(1.13,1)" >1</text>
<text x="0" y="0" font-size="18.6" font-weight="bold" font-style="normal" text-anchor="middle" fill="#000" transform="translate(354.20,380.30) scale(1.13,1)" >2</text>
<text x="0" y="0" font-size="18.6" font-weight="bold" font-style="normal" text-anchor="middle" fill="#000" transform="translate(471.10,380.30) scale(1.13,1)" >3</text>
<text x="0" y="0" font-size="20" font-style="italic" transform="translate(289.2,401.6) scale(1.38,0.92)">η</text>
<text x="0" y="0" font-size="19.2" transform="translate(46.4,244.2) scale(1.2,1) rotate(-90)"><tspan font-style="italic">θ</tspan>(<tspan font-style="italic">η</tspan>),<tspan font-style="italic">θ</tspan><tspan font-weight="bold" font-size="14" dy="7.6">p</tspan><tspan dy="-7.6" dx="1.5">(</tspan><tspan font-style="italic">η</tspan>)</text>
<text x="364" y="85.1" font-size="14" font-weight="bold" textLength="84.2" lengthAdjust="spacingAndGlyphs">Fluid phase</text>
<text x="364" y="103.0" font-size="14" font-weight="bold" textLength="78.9" lengthAdjust="spacingAndGlyphs">Dust phase</text>
<path d="M201.2,124.0 C201.8,121.6 203.4,120.4 204.2,122.2 C204.8,123.8 204.9,126.5 205.3,128.8" stroke="#000" stroke-width="1.25" fill="none" stroke-linecap="round"/>
<path d="M210.6,120.9 L205.6,128.2 L201.0,135.0" stroke="#000" stroke-width="1.7" fill="none" stroke-linecap="round"/>
<text x="0" y="0" font-size="15.5" stroke="#000" stroke-width="0.45" transform="translate(207.6,136.0) scale(0.85,1)">1</text>
<text x="0" y="0" font-size="20" stroke="#000" stroke-width="0.25" transform="translate(215.4,131.6) scale(1.19,1)">=</text>
<text x="228.54" y="131.0" font-size="20" stroke="#000" stroke-width="0.3">0</text>
<text x="237.08" y="131.0" font-size="20" stroke="#000" stroke-width="0.3">.</text>
<text x="247.04" y="131.0" font-size="20" stroke="#000" stroke-width="0.3">,</text>
<text x="253.74" y="131.0" font-size="20" stroke="#000" stroke-width="0.3">0</text>
<text x="262.48" y="131.0" font-size="20" stroke="#000" stroke-width="0.3">.</text>
<text x="265.54" y="131.0" font-size="20" stroke="#000" stroke-width="0.3">5</text>
<text x="274.84" y="131.0" font-size="20" stroke="#000" stroke-width="0.3">,</text>
<text x="279.74" y="131.0" font-size="20" stroke="#000" stroke-width="0.3">0</text>
<text x="288.48" y="131.0" font-size="20" stroke="#000" stroke-width="0.3">.</text>
<text x="292.06" y="131.0" font-size="20" stroke="#000" stroke-width="0.3">9</text>
<text x="0" y="0" font-size="20" stroke="#000" stroke-width="0.3" transform="translate(242.93,131.0) scale(0.72,1)">1</text>
<text x="0" y="0" font-size="7.6" font-weight="bold" font-style="normal" text-anchor="middle" fill="#222" transform="translate(297.60,320.50) scale(1.17,1)" >0.705</text>
<text x="0" y="0" font-size="7.6" font-weight="bold" font-style="normal" text-anchor="middle" fill="#222" transform="translate(320.90,320.50) scale(1.17,1)" >0.71</text>
<text x="0" y="0" font-size="7.6" font-weight="bold" font-style="normal" text-anchor="middle" fill="#222" transform="translate(344.20,320.50) scale(1.17,1)" >0.715</text>
<text x="0" y="0" font-size="7.6" font-weight="bold" font-style="normal" text-anchor="middle" fill="#222" transform="translate(367.50,320.50) scale(1.17,1)" >0.72</text>
<text x="0" y="0" font-size="7.6" font-weight="bold" font-style="normal" text-anchor="middle" fill="#222" transform="translate(390.80,320.50) scale(1.17,1)" >0.725</text>
<text x="0" y="0" font-size="7.6" font-weight="bold" font-style="normal" text-anchor="middle" fill="#222" transform="translate(414.10,320.50) scale(1.17,1)" >0.73</text>
<text x="0" y="0" font-size="7.6" font-weight="bold" font-style="normal" text-anchor="end" fill="#222" transform="translate(273.60,308.00) scale(1.17,1)" >0</text>
<text x="0" y="0" font-size="7.6" font-weight="bold" font-style="normal" text-anchor="end" fill="#222" transform="translate(273.60,282.90) scale(1.17,1)" >1</text>
<text x="0" y="0" font-size="7.6" font-weight="bold" font-style="normal" text-anchor="end" fill="#222" transform="translate(273.60,257.80) scale(1.17,1)" >2</text>
<text x="0" y="0" font-size="7.6" font-weight="bold" font-style="normal" text-anchor="end" fill="#222" transform="translate(273.60,232.70) scale(1.17,1)" >3</text>
<text x="0" y="0" font-size="7.6" font-weight="bold" font-style="normal" text-anchor="end" fill="#222" transform="translate(273.60,207.60) scale(1.17,1)" >4</text>
<text x="0" y="0" font-size="7.6" font-weight="bold" font-style="normal" text-anchor="end" fill="#222" transform="translate(273.60,182.50) scale(1.17,1)" >5</text>
<text x="277.6" y="168.9" font-size="9" fill="#222">×<tspan font-weight="bold"> 10</tspan><tspan font-size="6" dy="-4">-4</tspan></text>
<text x="0" y="0" font-size="9" font-style="italic" fill="#222" transform="translate(347.3,330.6) scale(1.4,0.95)">η</text>
<text x="0" y="0" font-size="8.3" fill="#333" transform="translate(260.6,258.2) scale(1.12,1) rotate(-90)"><tspan font-style="italic" font-weight="normal">θ</tspan>(<tspan font-style="italic" font-weight="normal">η</tspan>),<tspan font-style="italic" font-weight="normal">θ</tspan><tspan font-size="6.5" font-weight="bold" dy="2">p</tspan><tspan dy="-2"> (</tspan><tspan font-style="italic" font-weight="normal">η</tspan>)</text>
</g>
</svg>
</body></html>
